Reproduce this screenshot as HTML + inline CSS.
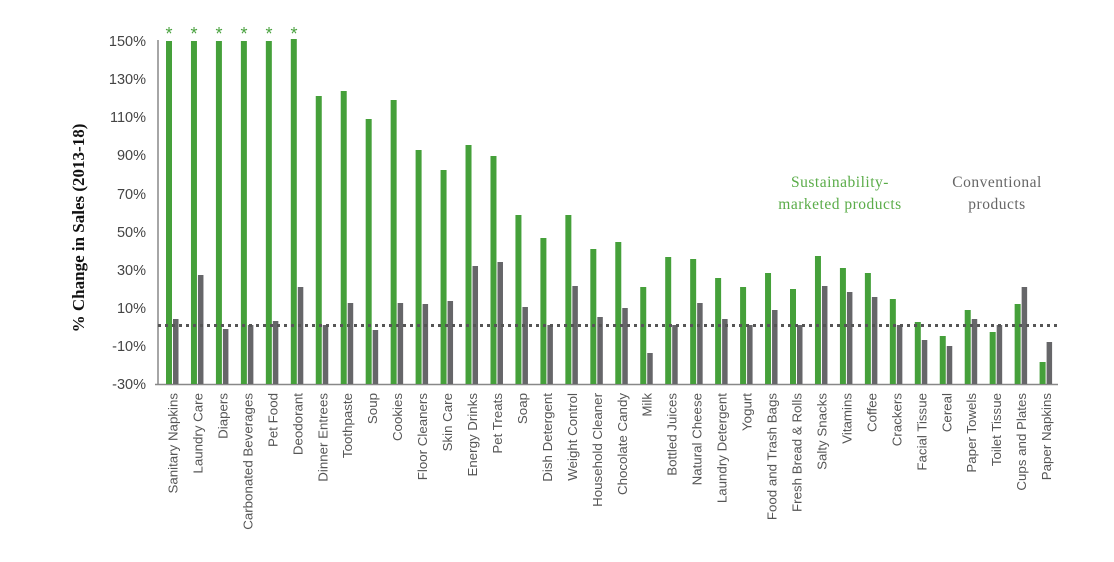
<!DOCTYPE html>
<html><head><meta charset="utf-8"><style>
html,body{margin:0;padding:0;background:#fff;}
svg{display:block;}
text{font-family:"Liberation Sans",sans-serif;}
text.serif{font-family:"Liberation Serif",serif;}
</style></head><body>
<svg width="1114" height="562" xmlns="http://www.w3.org/2000/svg">
<g font-size="14.5" fill="#444" text-anchor="end">
<text x="146" y="46">150%</text>
<text x="146" y="84">130%</text>
<text x="146" y="122">110%</text>
<text x="146" y="160">90%</text>
<text x="146" y="199">70%</text>
<text x="146" y="237">50%</text>
<text x="146" y="275">30%</text>
<text x="146" y="313">10%</text>
<text x="146" y="351">-10%</text>
<text x="146" y="389">-30%</text>
</g>
<text class="serif" transform="translate(84,228) rotate(-90)" text-anchor="middle" font-size="17" font-weight="bold" fill="#111">% Change in Sales  (2013-18)</text>
<line x1="158" y1="40" x2="158" y2="384.5" stroke="#888" stroke-width="1.5"/>
<line x1="155" y1="384.5" x2="1058" y2="384.5" stroke="#888" stroke-width="1.5"/>
<g id="bars"></g>
<line x1="158" y1="325.5" x2="1058" y2="325.5" stroke="#555" stroke-width="3" stroke-dasharray="3 4"/>
<g id="labels" font-size="13.3" fill="#555"></g>
<g fill="#4aa23f" font-size="18" text-anchor="middle">
<text x="169" y="40">*</text><text x="194" y="40">*</text><text x="219" y="40">*</text><text x="244" y="40">*</text><text x="269" y="40">*</text><text x="294" y="40">*</text>
</g>
<g font-size="15.5" text-anchor="middle">
<text class="serif" x="840" y="187" fill="#5aac48" letter-spacing="0.5">Sustainability-</text>
<text class="serif" x="840" y="209" fill="#5aac48" letter-spacing="0.5">marketed products</text>
<text class="serif" x="997" y="187" fill="#666" letter-spacing="0.5">Conventional</text>
<text class="serif" x="997" y="209" fill="#666" letter-spacing="0.5">products</text>
</g>
</svg>
<script>
var d=[["Sanitary Napkins",41,319],["Laundry Care",41,275],["Diapers",41,329],["Carbonated Beverages",41,325],["Pet Food",41,321],["Deodorant",39,287],["Dinner Entrees",96,325],["Toothpaste",91,303],["Soup",119,330],["Cookies",100,303],["Floor Cleaners",150,304],["Skin Care",170,301],["Energy Drinks",145,266],["Pet Treats",156,262],["Soap",215,307],["Dish Detergent",238,325],["Weight Control",215,286],["Household Cleaner",249,317],["Chocolate Candy",242,308],["Milk",287,353],["Bottled Juices",257,325],["Natural Cheese",259,303],["Laundry Detergent",278,319],["Yogurt",287,325],["Food and Trash Bags",273,310],["Fresh Bread & Rolls",289,325],["Salty Snacks",256,286],["Vitamins",268,292],["Coffee",273,297],["Crackers",299,325],["Facial Tissue",322,340],["Cereal",336,346],["Paper Towels",310,319],["Toilet Tissue",332,325],["Cups and Plates",304,287],["Paper Napkins",362,342]];
var ns="http://www.w3.org/2000/svg",b=document.getElementById("bars"),l=document.getElementById("labels");
d.forEach(function(r,i){var c=172.5+i*24.96;
function rect(x,y,w,f){var e=document.createElementNS(ns,"rect");e.setAttribute("x",x);e.setAttribute("y",y);e.setAttribute("width",w);e.setAttribute("height",384-y);e.setAttribute("fill",f);b.appendChild(e);}
rect(c-6.5,r[1],6,"#45a03a");rect(c+0.5,r[2],5.5,"#666669");
var t=document.createElementNS(ns,"text");t.setAttribute("transform","translate("+(c+5)+",393) rotate(-90)");t.setAttribute("text-anchor","end");t.textContent=r[0];l.appendChild(t);});
</script>
</body></html>
